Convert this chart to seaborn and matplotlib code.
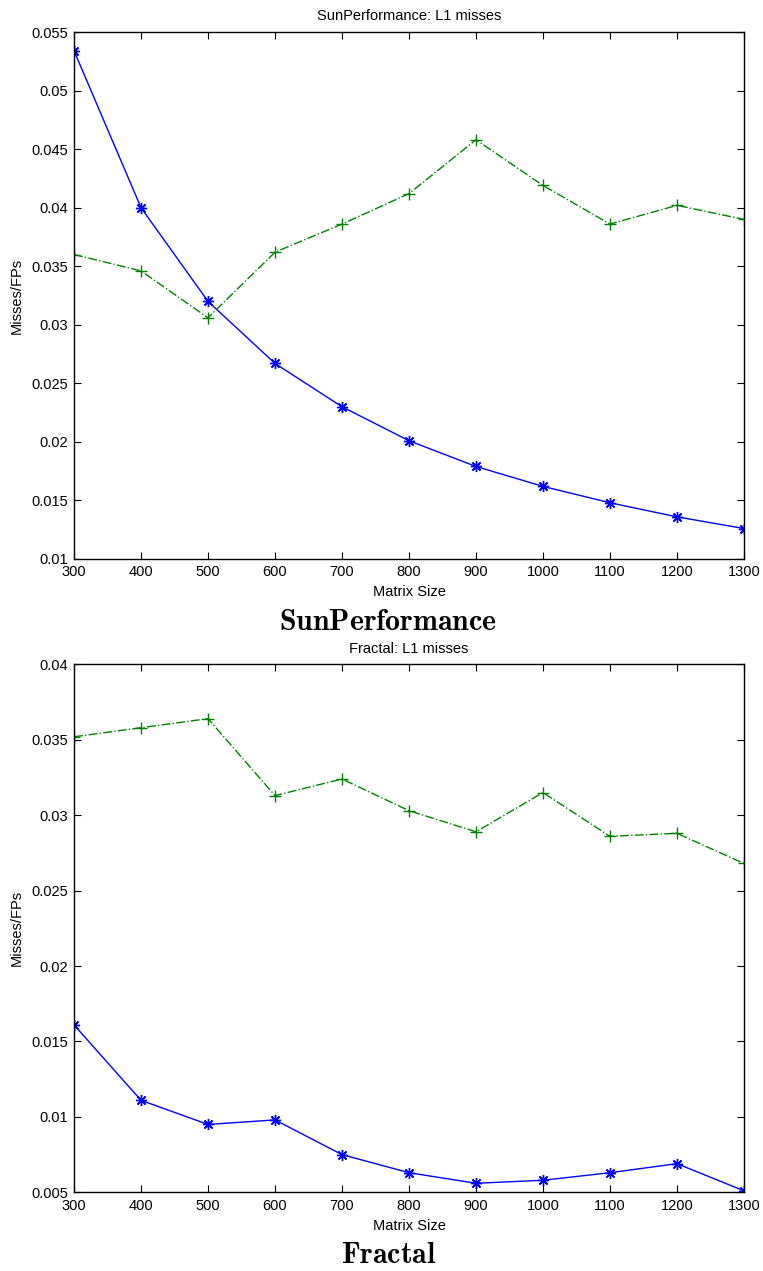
import matplotlib
matplotlib.use("Agg")
import matplotlib.pyplot as plt
import seaborn as sns
import pandas as pd
from matplotlib.ticker import FuncFormatter, FixedLocator

# ---- data ----
matrix_sizes = [300, 400, 500, 600, 700, 800, 900, 1000, 1100, 1200, 1300]

sun_blue = [0.0534, 0.0400, 0.0320, 0.0267, 0.0230, 0.0201, 0.0179, 0.0162, 0.0148, 0.0136, 0.0126]
sun_green = [0.0360, 0.0346, 0.0306, 0.0362, 0.0386, 0.0412, 0.0458, 0.0419, 0.0386, 0.0402, 0.0390]

fractal_blue = [0.0161, 0.0111, 0.0095, 0.0098, 0.0075, 0.0063, 0.0056, 0.0058, 0.0063, 0.0069, 0.0051]
fractal_green = [0.0352, 0.0358, 0.0364, 0.0313, 0.0324, 0.0303, 0.0289, 0.0315, 0.0286, 0.0288, 0.0268]

sun_yticks = [0.01, 0.015, 0.02, 0.025, 0.03, 0.035, 0.04, 0.045, 0.05, 0.055]
fractal_yticks = [0.005, 0.01, 0.015, 0.02, 0.025, 0.03, 0.035, 0.04]

titles = ["SunPerformance: L1 misses", "Fractal: L1 misses"]
captions = ["SunPerformance", "Fractal"]
x_label = "Matrix Size"
y_label = "Misses/FPs"

# ---- style ----
sns.set_style("ticks")
plt.rcParams["font.family"] = ["Liberation Sans", "DejaVu Sans"]
plt.rcParams["mathtext.fontset"] = "cm"
plt.rcParams["text.color"] = "black"
plt.rcParams["axes.labelcolor"] = "black"
FS = 10.5
ASTERISK = (8, 2, 0)

fig = plt.figure(figsize=(7.63, 12.71), dpi=100)
ax_top = fig.add_axes([0.097, 0.5602, 0.878, 0.4146])
ax_bot = fig.add_axes([0.097, 0.0619, 0.878, 0.4154])

panels = [
    (ax_top, sun_blue, sun_green, sun_yticks, titles[0]),
    (ax_bot, fractal_blue, fractal_green, fractal_yticks, titles[1]),
]

for ax, blue, green, yticks, title in panels:
    df = pd.DataFrame({"size": matrix_sizes, "blue": blue, "green": green})
    sns.lineplot(data=df, x="size", y="blue", ax=ax, color="#0000ff",
                 marker=ASTERISK, markersize=8, markeredgecolor="#0000ff",
                 markerfacecolor="#0000ff", markeredgewidth=1.0,
                 linewidth=1.0, linestyle="-")
    sns.lineplot(data=df, x="size", y="green", ax=ax, color="#008000",
                 marker="+", markersize=9, markeredgecolor="#008000",
                 markeredgewidth=1.0, linewidth=1.0, linestyle="-.")
    ax.set_xlim(matrix_sizes[0], matrix_sizes[-1])
    ax.set_ylim(yticks[0], yticks[-1])
    ax.xaxis.set_major_locator(FixedLocator(matrix_sizes))
    ax.yaxis.set_major_locator(FixedLocator(yticks))
    ax.yaxis.set_major_formatter(FuncFormatter(lambda v, p: f"{v:g}"))
    ax.xaxis.set_major_formatter(FuncFormatter(lambda v, p: f"{v:g}"))
    ax.tick_params(direction="in", length=5, width=0.8, top=True, right=True,
                   labelsize=FS, colors="black", pad=4.5)
    for s in ax.spines.values():
        s.set_visible(True)
        s.set_linewidth(1.0)
        s.set_color("black")
    ax.set_xlabel(x_label, fontsize=FS, labelpad=4.5)
    ax.set_ylabel(y_label, fontsize=FS, labelpad=5)
    ax.set_title(title, fontsize=FS, pad=8.5)
    ax.grid(False)

fig.text(0.509, 1 - 622 / 1271, r"$\mathbf{" + captions[0] + "}$",
         ha="center", va="center", fontsize=21.5)
fig.text(0.509, 1 - 1255 / 1271, r"$\mathbf{" + captions[1] + "}$",
         ha="center", va="center", fontsize=21.5)

fig.savefig("out.png", dpi=100, facecolor="white")
